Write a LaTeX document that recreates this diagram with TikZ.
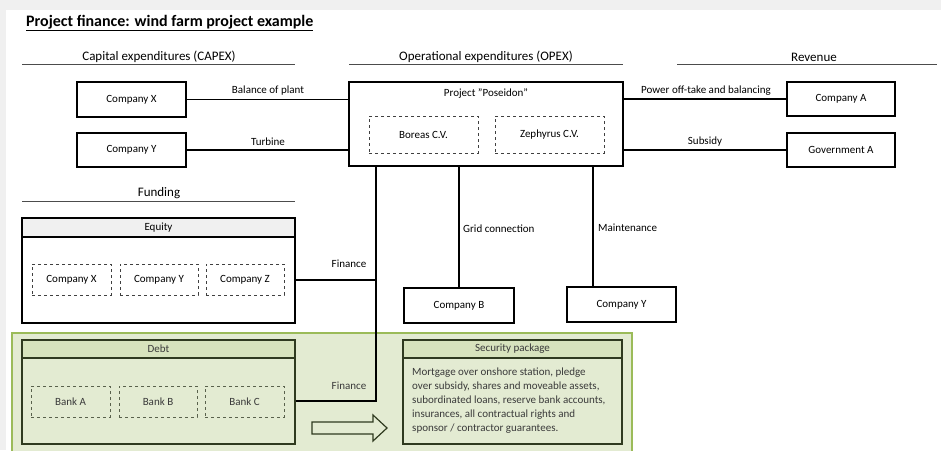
\documentclass[tikz,border=0pt]{standalone}
\usepackage{fontspec}
\setmainfont{Carlito}
\definecolor{pagegray}{HTML}{F0F0F0}
\definecolor{greenline}{HTML}{9BBB59}
\definecolor{greenfill}{HTML}{E3EBD2}
\definecolor{greenhead}{HTML}{D7E3BD}
\definecolor{oliveline}{HTML}{2F3A1F}
\definecolor{greentext}{HTML}{3A3A3A}
\begin{document}
\begin{tikzpicture}[x=1pt,y=-1pt,
  box/.style={draw,line width=1.6pt,fill=white,inner sep=0pt,font=\fontsize{11}{13}\selectfont},
  subbox/.style={draw=black!75,dashed,line width=0.8pt,inner sep=0pt,font=\fontsize{11}{13}\selectfont},
  greenbox/.style={draw=oliveline,line width=1.4pt,inner sep=0pt,text=greentext,font=\fontsize{11}{13}\selectfont},
  greensub/.style={subbox,draw=oliveline!80,text=greentext},
  lbl/.style={inner sep=0pt,font=\fontsize{11}{13}\selectfont},
  heading/.style={inner sep=0pt,font=\fontsize{13}{15}\selectfont},
  conn/.style={line width=1.4pt},
  rule/.style={line width=0.9pt,black!70}]
  \useasboundingbox (0,0) rectangle (941,450);
  \fill[pagegray] (0,0) rectangle (941,450);
  \fill[white] (6,10) rectangle (941,450);

  \node[anchor=base west,inner sep=0pt,font=\fontsize{16}{18}\selectfont\bfseries] (title) at (26,26.5) {\underline{Project finance: wind farm project example}};

  %%%%%%%%%%%%%%%%%%%%% headings
  \node[heading] (capex) at (159,57) {Capital expenditures (CAPEX)};
  \node[heading] (opex) at (486,57) {Operational expenditures (OPEX)};
  \node[heading] (rev) at (814,57) {Revenue};
  \node[heading] (fund) at (159,193) {Funding};
  \draw[rule] (22,64) -- (295,64);
  \draw[rule] (349,64) -- (623,64);
  \draw[rule] (677,64) -- (937,64);
  \draw[rule] (22,201) -- (295,201);

  %%%%%%%%%%%%%%%%%%%%% green area
  \draw[draw=greenline,fill=greenfill,line width=2pt] (12,333) rectangle (632,455);

  %%%%%%%%%%%%%%%%%%%%% project
  \node[box,minimum width=274pt,minimum height=84pt] (prj) at (486,124) {};
  \node[lbl] (prjname) at (486,94) {Project "Poseidon"};
  \node[subbox,minimum width=109pt,minimum height=37pt] (boreas) at (423.5,134.5) {Boreas C.V.};
  \node[subbox,minimum width=109pt,minimum height=37pt] (zephyrus) at (549.5,134.5) {Zephyrus C.V.};

  %%%%%%%%%%%%%%%%%%%%% capex
  \node[box,minimum width=109pt,minimum height=35pt] (cx) at (131.5,99.5) {Company X};
  \node[box,minimum width=109pt,minimum height=34pt] (cy) at (131.5,150) {Company Y};
  \draw[conn] (cx.east) -- (cx.east -| prj.west);
  \draw[conn] (cy.east) -- (cy.east -| prj.west);
  \node[lbl] (bop) at (268,91) {Balance of plant};
  \node[lbl] (turb) at (268,142) {Turbine};

  %%%%%%%%%%%%%%%%%%%%% revenue
  \node[box,minimum width=108pt,minimum height=34pt] (ca) at (841,99) {Company A};
  \node[box,minimum width=108pt,minimum height=34pt] (ga) at (841,150) {Government A};
  \draw[conn] (ca.west -| prj.east) -- (ca.west);
  \draw[conn] (ga.west -| prj.east) -- (ga.west);
  \node[lbl] (pwr) at (706,91) {Power off-take and balancing};
  \node[lbl] (sub) at (705,142) {Subsidy};

  %%%%%%%%%%%%%%%%%%%%% opex
  \node[box,minimum width=110pt,minimum height=35pt] (cb) at (459,305.5) {Company B};
  \node[box,minimum width=109pt,minimum height=35pt] (cy2) at (621.5,304.5) {Company Y};
  \coordinate (mnt) at (593,287);
  \draw[conn] (cb.north |- prj.south) -- (cb.north);
  \draw[conn] (mnt |- prj.south) -- (mnt);
  \node[lbl,anchor=west] (grid) at (463,229) {Grid connection};
  \node[lbl,anchor=west] (maint) at (598,228) {Maintenance};

  %%%%%%%%%%%%%%%%%%%%% equity
  \node[box,fill=pagegray,minimum width=273pt,minimum height=19pt] (eqhead) at (158.5,227.5) {Equity};
  \node[box,minimum width=273pt,minimum height=86pt] (eqbody) at (158.5,280) {};
  \node[subbox,minimum width=79pt,minimum height=31pt] (eqx) at (71.5,279.5) {Company X};
  \node[subbox,minimum width=78pt,minimum height=31pt] (eqy) at (159,279.5) {Company Y};
  \node[subbox,minimum width=78pt,minimum height=31pt] (eqz) at (245,279.5) {Company Z};

  %%%%%%%%%%%%%%%%%%%%% debt
  \node[greenbox,fill=greenhead,minimum width=273pt,minimum height=18pt] (dbthead) at (158.5,349) {Debt};
  \node[greenbox,minimum width=273pt,minimum height=86pt] (dbtbody) at (158.5,401) {};
  \node[greensub,minimum width=79pt,minimum height=31pt] (bka) at (70.5,401.5) {Bank A};
  \node[greensub,minimum width=78pt,minimum height=31pt] (bkb) at (158,401.5) {Bank B};
  \node[greensub,minimum width=79pt,minimum height=31pt] (bkc) at (244.5,401.5) {Bank C};

  %%%%%%%%%%%%%%%%%%%%% finance
  \coordinate (fin) at (376,401);
  \draw[conn] (eqbody.east) -- (eqbody.east -| fin);
  \draw[conn] (dbtbody.east) -- (fin) -- (fin |- prj.south);
  \node[lbl] (fin1) at (349,264) {Finance};
  \node[lbl,text=greentext] (fin2) at (349,386) {Finance};

  %%%%%%%%%%%%%%%%%%%%% security
  \node[greenbox,fill=greenhead,minimum width=219pt,minimum height=18pt] (sechead) at (512.5,349) {Security package};
  \node[greenbox,minimum width=219pt,minimum height=86pt] (secbody) at (512.5,401) {};
  \node[lbl,text=greentext,anchor=north west,align=left,font=\fontsize{11}{13.8}\selectfont] (sectext) at (412,368)
    {Mortgage over onshore station, pledge\\over subsidy, shares and moveable assets,\\subordinated loans, reserve bank accounts,\\insurances, all contractual rights and\\sponsor / contractor guarantees.};
  \draw[draw=oliveline,line width=1.2pt,fill=greenfill] (312,422) -- (373,422) -- (373,415) -- (387,428) -- (373,441) -- (373,434) -- (312,434) -- cycle;
\end{tikzpicture}
\end{document}
